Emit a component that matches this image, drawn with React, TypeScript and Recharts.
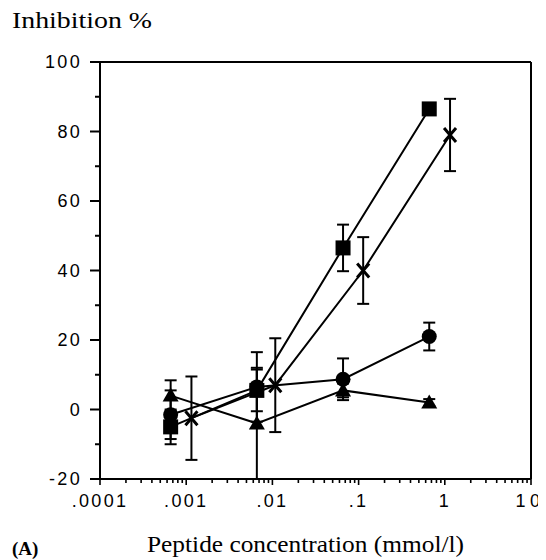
import React from "react";
import { LineChart, Line, XAxis, YAxis, ErrorBar, ReferenceLine } from "recharts";

// concentrations (mmol/l)
const CONC = [0.00066, 0.0066, 0.066, 0.66];
const CONC_X = [0.00115, 0.0108, 0.113, 1.15];

// inhibition % and error
const SQUARE = [-5, 5.5, 46.5, 86.5];
const SQUARE_ERR = [5, 6, 6.7, 1];
const CIRCLE = [-1.5, 6.5, 8.7, 21];
const CIRCLE_ERR = [7, 10, 6, 4];
const TRIANGLE = [4, -4, 5.5, 2];
const TRIANGLE_ERR = [4.4, 16, 2, 1];
const CROSS = [-2.5, 7, 40, 79];
const CROSS_ERR = [12, 13.5, 9.6, 10.4];

const X_DECADES = [0.0001, 0.001, 0.01, 0.1, 1, 10];
const X_LABELS = [".0001", ".001", ".01", ".1", "1", "10"];
const X_MINOR = X_DECADES.slice(0, -1).flatMap((d) =>
  [2, 3, 4, 5, 6, 7, 8, 9].map((m) => +(d * m).toPrecision(3))
);
const Y_TICKS = [-20, -10, 0, 10, 20, 30, 40, 50, 60, 70, 80, 90, 100];
const Y_LABELED = [-20, 0, 20, 40, 60, 80, 100];

const W = 538;
const H = 552;
const PLOT_LEFT = 92;
const PLOT_BOTTOM = 471;

const toRows = (xs: number[], ys: number[], errs: number[]) =>
  xs.map((x, i) => ({ x, y: ys[i], err: errs[i] }));

const squareData = toRows(CONC, SQUARE, SQUARE_ERR);
const circleData = toRows(CONC, CIRCLE, CIRCLE_ERR);
const triangleData = toRows(CONC, TRIANGLE, TRIANGLE_ERR);
const crossData = toRows(CONC_X, CROSS, CROSS_ERR);

const sans = "Liberation Sans, Arial, Helvetica, sans-serif";
const serif = "Liberation Serif, Times New Roman, Times, serif";

function YTick(props: any) {
  const v = props.payload.value;
  const y = props.payload.coordinate ?? props.y;
  const major = Y_LABELED.includes(v);
  return (
    <g>
      <line x1={PLOT_LEFT - (major ? 10 : 5)} x2={PLOT_LEFT} y1={y} y2={y} stroke="#000" strokeWidth={2} />
      {major && (
        <text x={PLOT_LEFT - 18} y={y + 6.4} textAnchor="end" fill="#000" fontFamily={sans} fontSize={18} letterSpacing={2.3}>
          {v}
        </text>
      )}
    </g>
  );
}

function XTick(props: any) {
  const v = props.payload.value;
  const x = props.payload.coordinate ?? props.x;
  const idx = X_DECADES.indexOf(v);
  const major = idx >= 0;
  const last = idx === X_DECADES.length - 1;
  return (
    <g>
      <line x1={x} x2={x} y1={PLOT_BOTTOM} y2={PLOT_BOTTOM + (major ? 6 : 4)} stroke="#000" strokeWidth={1.6} />
      {major && (
        <text
          x={last ? x - 1 : x}
          y={499}
          textAnchor="middle"
          fill="#000"
          fontFamily={sans}
          fontSize={18}
          letterSpacing={last ? 4.5 : 2.3}
        >
          {X_LABELS[idx]}
        </text>
      )}
    </g>
  );
}

const SquareDot = ({ cx, cy }: any) => <rect x={cx - 7.5} y={cy - 7.5} width={15} height={15} fill="#000" />;
const CircleDot = ({ cx, cy }: any) => <circle cx={cx} cy={cy} r={7.5} fill="#000" />;
const TriangleDot = ({ cx, cy }: any) => (
  <path d={`M${cx},${cy - 8} L${cx + 8},${cy + 6} L${cx - 8},${cy + 6} Z`} fill="#000" />
);
const CrossDot = ({ cx, cy }: any) => (
  <path
    d={`M${cx - 6},${cy - 7} L${cx + 6},${cy + 7} M${cx + 6},${cy - 7} L${cx - 6},${cy + 7}`}
    stroke="#000"
    strokeWidth={3}
    fill="none"
  />
);

export default function App() {
  return (
    <div style={{ position: "relative", width: W, height: H }}>
      {/* drop the bottom body margin so the 552px figure fits the 560px window without a scrollbar */}
      <style>{"body{margin-bottom:0}"}</style>
      <LineChart width={W} height={H} margin={{ top: 54, right: 15, left: 32, bottom: 51 }}>
        <XAxis
          dataKey="x"
          type="number"
          scale="log"
          domain={[0.0001, 10]}
          allowDataOverflow
          ticks={[...X_DECADES, ...X_MINOR]}
          interval={0}
          height={30}
          stroke="#000"
          strokeWidth={2}
          tickLine={false}
          tick={(p: any) => <XTick key={`xt-${p.index}`} {...p} />}
        />
        <YAxis
          type="number"
          domain={[-20, 100]}
          allowDataOverflow
          ticks={Y_TICKS}
          interval={0}
          width={60}
          stroke="#000"
          strokeWidth={2}
          tickLine={false}
          tick={(p: any) => <YTick key={`yt-${p.index}`} {...p} />}
        />
        <ReferenceLine y={100} stroke="#000" strokeWidth={2} />
        <ReferenceLine x={10} stroke="#000" strokeWidth={2} />

        <Line
          data={crossData}
          dataKey="y"
          stroke="#000"
          strokeWidth={2}
          isAnimationActive={false}
          activeDot={false}
          dot={(p: any) => <CrossDot key={`c-${p.index}`} cx={p.cx} cy={p.cy} />}
        >
          <ErrorBar dataKey="err" direction="y" width={6} stroke="#000" strokeWidth={2} isAnimationActive={false} />
        </Line>
        <Line
          data={triangleData}
          dataKey="y"
          stroke="#000"
          strokeWidth={2}
          isAnimationActive={false}
          activeDot={false}
          dot={(p: any) => <TriangleDot key={`t-${p.index}`} cx={p.cx} cy={p.cy} />}
        >
          <ErrorBar dataKey="err" direction="y" width={6} stroke="#000" strokeWidth={2} isAnimationActive={false} />
        </Line>
        <Line
          data={circleData}
          dataKey="y"
          stroke="#000"
          strokeWidth={2}
          isAnimationActive={false}
          activeDot={false}
          dot={(p: any) => <CircleDot key={`o-${p.index}`} cx={p.cx} cy={p.cy} />}
        >
          <ErrorBar dataKey="err" direction="y" width={6} stroke="#000" strokeWidth={2} isAnimationActive={false} />
        </Line>
        <Line
          data={squareData}
          dataKey="y"
          stroke="#000"
          strokeWidth={2}
          isAnimationActive={false}
          activeDot={false}
          dot={(p: any) => <SquareDot key={`s-${p.index}`} cx={p.cx} cy={p.cy} />}
        >
          <ErrorBar dataKey="err" direction="y" width={6} stroke="#000" strokeWidth={2} isAnimationActive={false} />
        </Line>
      </LineChart>
      <svg
        width={W}
        height={H}
        style={{ position: "absolute", left: 0, top: 0, pointerEvents: "none" }}
      >
        <text x={4} y={20} fontFamily={serif} fontSize={23} textLength={140} lengthAdjust="spacingAndGlyphs" fill="#000">
          Inhibition %
        </text>
        <text x={4} y={547} fontFamily={serif} fontSize={19} fontWeight="bold" fill="#000">
          (A)
        </text>
        <text x={139} y={544} fontFamily={serif} fontSize={23} textLength={317} lengthAdjust="spacingAndGlyphs" fill="#000">
          Peptide concentration (mmol/l)
        </text>
      </svg>
    </div>
  );
}
